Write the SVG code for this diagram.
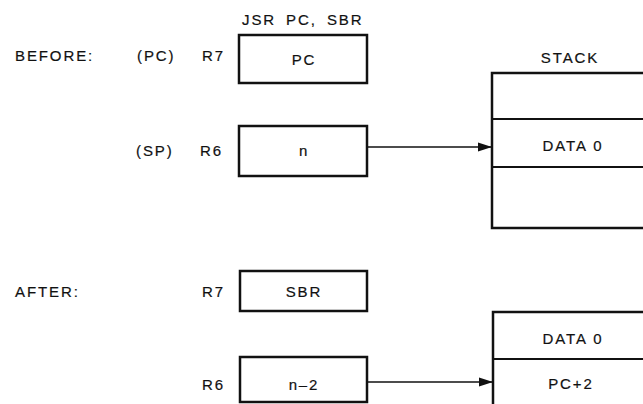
<svg xmlns="http://www.w3.org/2000/svg" width="643" height="404" viewBox="0 0 643 404">
<defs>
<style>
text{font-family:"Liberation Sans",Arial,sans-serif;font-size:15px;fill:#111;stroke:#111;stroke-width:0.2;letter-spacing:1.9px}
.c{text-anchor:middle}
.box{fill:none;stroke:#111;stroke-width:2.5}
.ln{fill:none;stroke:#111;stroke-width:2}
.ar{fill:none;stroke:#111;stroke-width:1.6}
</style>
<marker id="ah" markerWidth="14" markerHeight="10" refX="13" refY="5" orient="auto" markerUnits="userSpaceOnUse">
<path d="M0,0.5 L14,5 L0,9.5 Z" fill="#111"/>
</marker>
</defs>
<rect width="643" height="404" fill="#fff"/>
<g id="labels">
<text x="15" y="61">BEFORE:</text>
<text x="137" y="61">(PC)</text>
<text x="202" y="61">R7</text>
<text x="136" y="156">(SP)</text>
<text x="200" y="156">R6</text>
<text x="242" y="25" word-spacing="4">JSR PC, SBR</text>
<text x="15" y="297">AFTER:</text>
<text x="202" y="297">R7</text>
<text x="202" y="390">R6</text>
</g>
<g id="r7-before"><rect class="box" x="239" y="35" width="128" height="48"/><text class="c" x="304" y="65">PC</text></g>
<g id="r6-before"><rect class="box" x="239" y="126" width="128" height="50"/><text class="c" x="304" y="156">n</text></g>
<g id="stack-before">
<text class="c" x="570" y="63">STACK</text>
<polyline class="box" points="645,73 492,73 492,228 645,228"/>
<line class="ln" x1="492" y1="119" x2="645" y2="119"/>
<line class="ln" x1="492" y1="167" x2="645" y2="167"/>
<text class="c" x="573" y="151">DATA 0</text>
</g>
<g id="r7-after"><rect class="box" x="240" y="271" width="127" height="40"/><text class="c" x="304" y="297">SBR</text></g>
<g id="r6-after"><rect class="box" x="240" y="357" width="127" height="45"/><text class="c" x="304" y="390">n–2</text></g>
<g id="stack-after">
<polyline class="box" points="645,312 493,312 493,406"/>
<line class="ln" x1="493" y1="359" x2="645" y2="359"/>
<text class="c" x="573" y="344">DATA 0</text>
<text class="c" x="571" y="389">PC+2</text>
</g>
<g id="connectors">
<line class="ar" x1="368" y1="147" x2="491" y2="147" marker-end="url(#ah)"/>
<line class="ar" x1="368" y1="382" x2="492" y2="382" marker-end="url(#ah)"/>
</g>
</svg>
